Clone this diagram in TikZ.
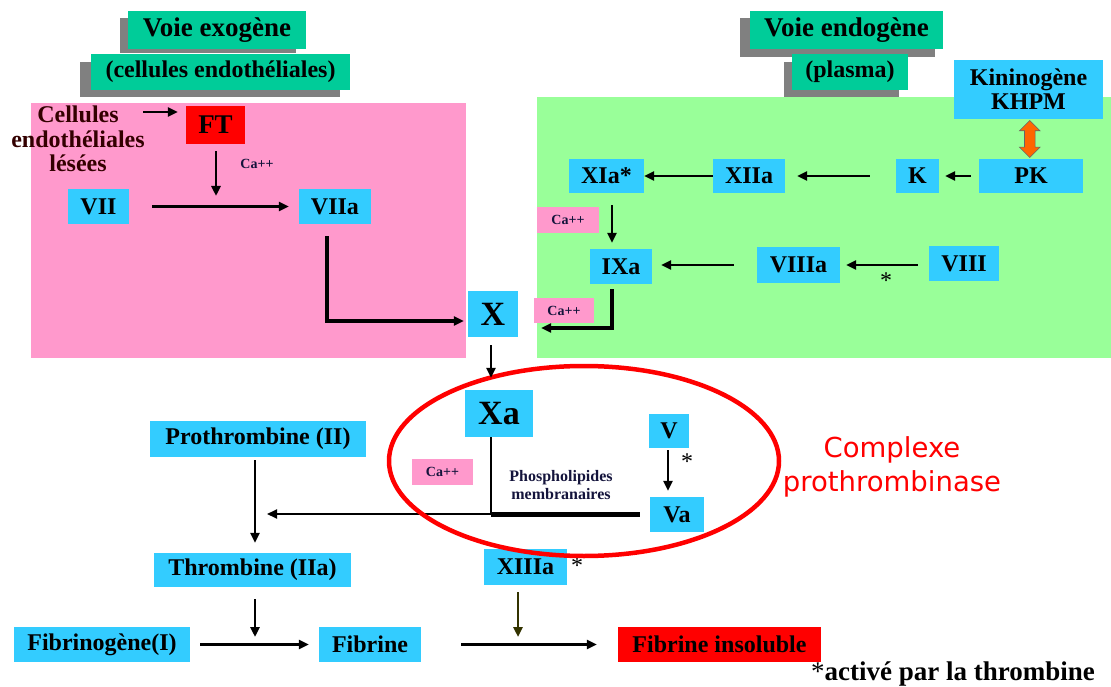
\documentclass[tikz,border=0pt]{standalone}
\usepackage{fontspec}
\setmainfont{Liberation Serif}
\newfontfamily\complexfont{DejaVu Sans}
\usetikzlibrary{arrows.meta,shapes.arrows,calc}
\definecolor{cyanbox}{RGB}{51,204,255}
\definecolor{titlegreen}{RGB}{0,204,153}
\definecolor{panelpink}{RGB}{255,153,204}
\definecolor{panelgreen}{RGB}{153,255,153}
\definecolor{shadowgray}{RGB}{128,128,128}
\definecolor{kinorange}{RGB}{255,102,0}
\definecolor{olivearrow}{RGB}{51,51,0}
\definecolor{navytext}{RGB}{20,20,60}
\definecolor{maroontext}{RGB}{51,0,0}
\begin{document}
\begin{tikzpicture}[x=1pt,y=-1pt,
box/.style={fill=cyanbox,inner sep=0pt,font=\bfseries\fontsize{24}{24}\selectfont},
bigbox/.style={box,font=\bfseries\fontsize{34}{34}\selectfont},
titlebox/.style={fill=titlegreen,inner sep=0pt,font=\bfseries\fontsize{27}{27}\selectfont},
subbox/.style={titlebox,font=\bfseries\fontsize{24}{24}\selectfont},
cabox/.style={fill=panelpink,inner sep=0pt,text=navytext,font=\bfseries\fontsize{14}{14}\selectfont},
starmark/.style={inner sep=0pt,font=\fontsize{24}{24}\selectfont},
arr/.style={-{Triangle[length=10pt,width=9pt]},line width=2.6pt},
thickarr/.style={arr,line width=3.6pt},
thinarr/.style={arr,line width=2pt}]
\useasboundingbox (0,0) rectangle (1111,687);
\fill[shadowgray](120,18)rectangle(296,53);
\node[titlebox,minimum width=178,minimum height=38](exo)at(217,30){Voie exogène};
\fill[shadowgray](80,62)rectangle(340,97);
\node[subbox,minimum width=259,minimum height=36](exocell)at(220.5,72){(cellules endothéliales)};
\fill[shadowgray](740,18)rectangle(935,57);
\node[titlebox,minimum width=193,minimum height=38](endo)at(846.5,30){Voie endogène};
\fill[shadowgray](784,62)rectangle(899,97);
\node[subbox,minimum width=116,minimum height=36](plasma)at(850,72){(plasma)};
\fill[panelpink](31,103)rectangle(466,358);
\fill[panelgreen](537,97)rectangle(1111,358);
\node[align=center,text=maroontext,font=\bfseries\fontsize{24}{24.5}\selectfont](lesees)at(78,139){Cellules\\endothéliales\\lésées};
\node[box,fill=red,font=\bfseries\fontsize{27}{27}\selectfont,minimum width=59,minimum height=38](ft)at(215.5,125){FT};
\node[font=\bfseries\fontsize{14}{14}\selectfont,text=navytext](caft)at(257,164){Ca++};
\node[box,minimum width=61,minimum height=35](vii)at(98.5,206.5){VII};
\node[box,minimum width=72,minimum height=35](viia)at(335,206.5){VIIa};
\node[bigbox,minimum width=50,minimum height=46](x)at(493,314){X};
\node[box,align=center,minimum width=149,minimum height=59](khpm)at(1028.5,89.5){Kininogène\\KHPM};
\node[box,minimum width=104,minimum height=34](pk)at(1031,176){PK};
\node[box,minimum width=43,minimum height=34](k)at(917.5,176){K};
\node[box,minimum width=72,minimum height=34](xiia)at(749,176){XIIa};
\node[box,minimum width=75,minimum height=34](xia)at(606.5,176){XIa*};
\node[cabox,minimum width=62,minimum height=26](caxi)at(568,220){Ca++};
\node[box,minimum width=62,minimum height=35](ixa)at(621,266.5){IXa};
\node[box,minimum width=83,minimum height=36](viiia)at(798.5,265){VIIIa};
\node[box,minimum width=70,minimum height=35](viii)at(964,263.5){VIII};
\node[starmark](astviii)at(886,281){*};
\node[cabox,minimum width=60,minimum height=25](caix)at(564,310.5){Ca++};
\node[double arrow,rotate=90,fill=kinorange,draw=black!60,line width=.6pt,inner sep=5pt,minimum height=37,double arrow head extend=5pt]
  (kinarrow)at($(khpm.south)!.5!(pk.north)$){};
\draw[arr,shorten >=8pt](143,112)coordinate(celltip)--(ft.west|-celltip);
\coordinate(ftjoin)at(216,205);
\draw[arr,shorten <=7pt,shorten >=9pt](ft.south-|ftjoin)--(ftjoin);
\draw[arr,shorten <=23pt,shorten >=10pt](vii)--(viia);
\draw[thickarr,shorten <=12pt,shorten >=4pt]([xshift=-8pt]viia.south)|-([yshift=-7pt]x.west);
\draw[arr,shorten <=8pt,shorten >=6pt](pk)--(k);
\draw[arr,shorten <=26pt,shorten >=12pt](k)--(xiia);
\draw[arr](xiia)--(xia);
\draw[arr,shorten <=12pt,shorten >=6pt]([xshift=5.5pt]xia.south)--([xshift=5.5pt]xia.south|-ixa.north);
\draw[arr,shorten <=11pt,shorten >=6pt](viii.west|-viiia)--(viiia.east);
\draw[arr,shorten <=23pt,shorten >=9pt](viiia.west)--(viiia.west-|ixa.east);
\draw[thickarr,shorten <=5pt,shorten >=23pt]([xshift=-9pt]ixa.south)|-([yshift=-14pt]x.east);
\node[bigbox,minimum width=68,minimum height=47](xa)at(499,413.5){Xa};
\node[box,minimum width=40,minimum height=34](v)at(669,431){V};
\node[box,minimum width=54,minimum height=35](va)at(677,514.5){Va};
\node[starmark](astv)at(687,462){*};
\node[cabox,minimum width=61,minimum height=26](caxa)at(442.5,472){Ca++};
\node[align=center,text=navytext,font=\bfseries\fontsize{16}{18}\selectfont](phospho)at(561,485){Phospholipides\\membranaires};
\node[box,minimum width=216,minimum height=36](prothro)at(258,439){Prothrombine (II)};
\node[box,minimum width=197,minimum height=34](thromb)at(252.5,570){Thrombine (IIa)};
\node[box,minimum width=83,minimum height=36](xiiia)at(525.5,567){XIIIa};
\node[starmark](astxiii)at(577,566){*};
\node[box,minimum width=176,minimum height=35](fibrinogen)at(102,644.5){Fibrinogène(I)};
\node[box,minimum width=102,minimum height=35](fibrine)at(370,644.5){Fibrine};
\node[box,fill=red,minimum width=203,minimum height=35](insol)at(719.5,644.5){Fibrine insoluble};
\node[font=\bfseries\fontsize{27}{27}\selectfont](note)at(953,674){{\mdseries*}activé par la thrombine};
\node[align=center,text=red,font=\complexfont\fontsize{27.5}{34}\selectfont](complexe)at(892,467){Complexe\\prothrombinase};
\coordinate(membr)at(491,514);
\coordinate(membrend)at(640,514);
\draw[line width=2.4pt]([xshift=-8pt]xa.south)--(membr);
\draw[line width=5pt](membr)--(membrend);
\draw[thinarr,shorten >=9pt](membr)--(prothro|-membr);
\draw[arr,shorten <=2pt,shorten >=6pt]([xshift=-1pt]v.south)--([xshift=-1pt]v.south|-va.north);
\draw[red,line width=4.5pt](584,461)ellipse[x radius=195,y radius=95];
\draw[arr,shorten <=8pt,shorten >=12pt]([xshift=-2pt]x.south)--([xshift=-2pt]x.south|-xa.north);
\draw[arr,shorten <=3pt,shorten >=10pt]([xshift=-3pt]prothro.south)--([xshift=-3pt]prothro.south|-thromb.north);
\coordinate(thjoin)at(255,646);
\draw[arr,shorten <=12pt,shorten >=9pt](thromb.south-|thjoin)--(thjoin);
\draw[arr,shorten <=10pt,shorten >=10pt](fibrinogen)--(fibrine);
\draw[arr,shorten <=40pt,shorten >=21pt](fibrine)--(insol);
\coordinate(xiiijoin)at(518,646);
\draw[arr,olivearrow,shorten <=7pt,shorten >=9pt](xiiia.south-|xiiijoin)--(xiiijoin);
\end{tikzpicture}
\end{document}
